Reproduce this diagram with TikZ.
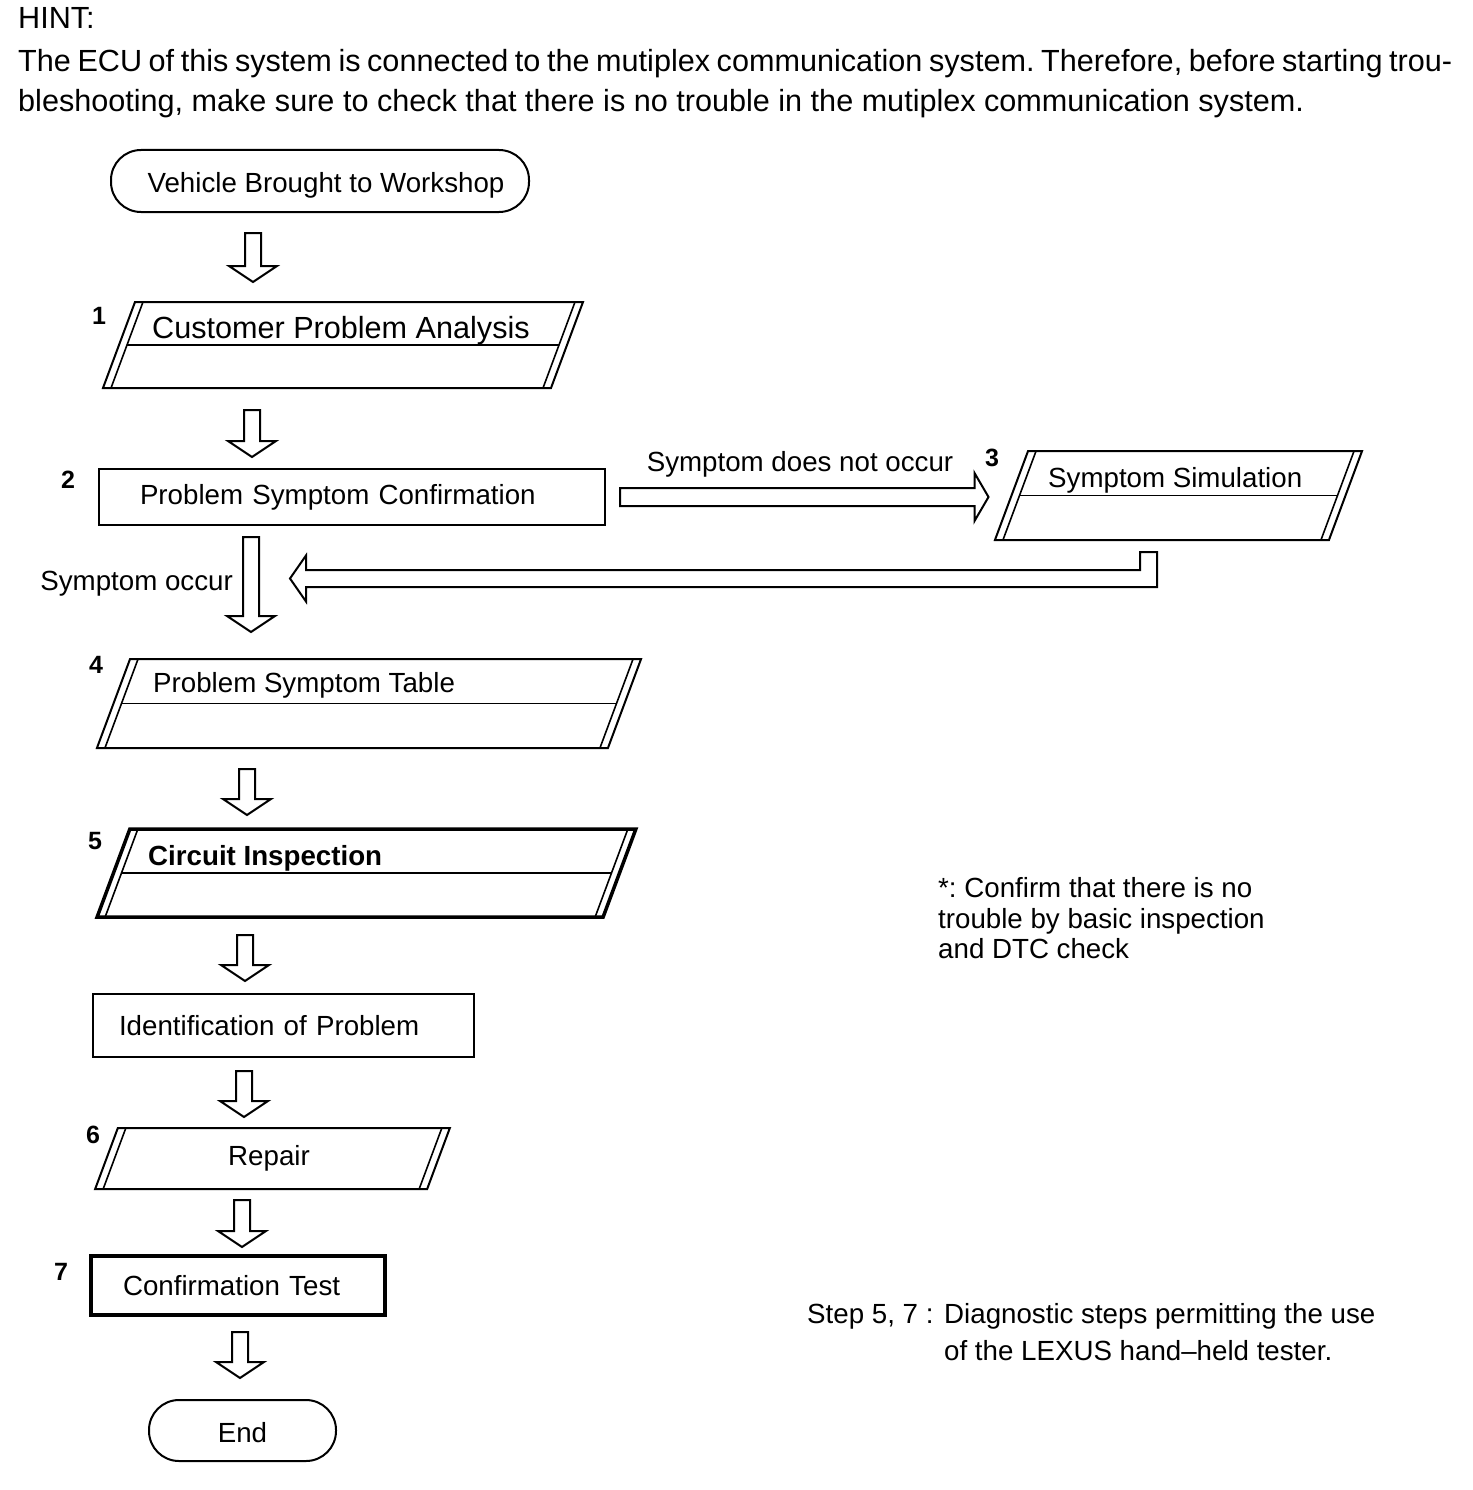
\documentclass[tikz,border=0pt]{standalone}
\usepackage{fontspec}
\setmainfont{Liberation Sans}
\usetikzlibrary{calc}
\frenchspacing

\begin{document}
\begin{tikzpicture}[x=1pt, y=-1pt,
		txt/.style={font=\fontsize{27.7}{33}\selectfont, inner sep=0pt},
		big/.style={font=\fontsize{30.6}{36}\selectfont, inner sep=0pt},
		bold/.style={font=\fontsize{27.7}{33}\selectfont\bfseries, inner sep=0pt},
		num/.style={font=\fontsize{25}{30}\selectfont\bfseries, inner sep=0pt},
		term/.style={txt, draw, line width=2pt, rounded corners=30pt, outer sep=0pt, minimum height=62pt, text height=24pt, text depth=0pt},
		stepbox/.style={txt, draw, line width=2pt, align=left, outer sep=0pt},
		iobox/.style={draw, line width=2pt, xslant=0.372, transform shape, outer sep=0pt, inner sep=0pt},
		sideline/.style={line width=1.6pt},
		downarrow/.style 2 args={line width=2pt, to path={let \p1=(\tikztostart), \p2=(\tikztotarget) in
				(\x1-8pt,\y1-#1) -- (\x1-8pt,\y2+#2+16pt) -- (\x1-24pt,\y2+#2+16pt) -- (\x1,\y2+#2)
				-- (\x1+24pt,\y2+#2+16pt) -- (\x1+8pt,\y2+#2+16pt) -- (\x1+8pt,\y1-#1) -- cycle}},
		rightarrow/.style 2 args={line width=2pt, to path={let \p1=(\tikztostart), \p2=(\tikztotarget) in
				(\x1+#1,\y1-9pt) -- (\x2-#2-14pt,\y1-9pt) -- (\x2-#2-14pt,\y1-24pt) -- (\x2-#2,\y1)
				-- (\x2-#2-14pt,\y1+24pt) -- (\x2-#2-14pt,\y1+9pt) -- (\x1+#1,\y1+9pt) -- cycle}},
	]
	\useasboundingbox (0,0) rectangle (1472,1490);

	% hint
	\node[big, anchor=base west] (hint) at (18,29) {HINT:};
	\node[big, anchor=base west] (hint1) at (18,72) {\makebox[1434pt][s]{The ECU of this system is connected to the mutiplex communication system. Therefore, before starting trou-}};
	\node[big, anchor=base west] (hint2) at (18,112) {bleshooting, make sure to check that there is no trouble in the mutiplex communication system.};

	% steps
	\node[term, minimum width=418pt] (veh) at (320,181) {\hspace*{12pt}Vehicle Brought to Workshop};
	\node[num] (n1) at (99,316) {1};
	\node[iobox, minimum width=448pt, minimum height=86pt] (s1) at (343,345) {};
	\node[big, anchor=base west] (t1) at (152,338) {Customer Problem Analysis};
	\node[num] (n2) at (68,480) {2};
	\node[stepbox, minimum height=56pt, text width=424pt, inner xsep=41pt] (s2) at (352,497) {Problem Symptom Confirmation};
	\node[txt, anchor=base] (notocc) at (800,471) {Symptom does not occur};
	\node[num] (n3) at (992,458) {3};
	\node[iobox, minimum width=334pt, minimum height=89pt] (s3) at (1178.5,495.5) {};
	\node[txt, anchor=base west] (t3) at (1048,487) {Symptom Simulation};
	\node[txt, anchor=base east] (occ) at (233,590) {Symptom occur};
	\node[num] (n4) at (96,665) {4};
	\node[iobox, minimum width=511pt, minimum height=89pt] (s4) at (369,703.5) {};
	\node[txt, anchor=base west] (t4) at (153,692) {Problem Symptom Table};
	\node[num] (n5) at (95,841) {5};
	\node[iobox, line width=3.5pt, minimum width=506pt, minimum height=88pt] (s5) at (366.5,873) {};
	\node[bold, anchor=base west] (t5) at (148,865) {Circuit Inspection};
	\node[stepbox, minimum height=63pt, text width=329pt, inner xsep=26pt] (ident) at (283.5,1025.5) {Identification of Problem};
	\node[num] (n6) at (93,1135) {6};
	\node[iobox, minimum width=332pt, minimum height=61pt] (s6) at (272.5,1158.5) {};
	\node[txt, anchor=base] (t6) at (269,1165) {Repair};
	\node[num] (n7) at (61,1272) {7};
	\node[stepbox, line width=3.5pt, minimum height=59pt, text width=230pt, inner xsep=32pt] (s7) at (238,1285.5) {Confirmation Test};
	\node[term, minimum width=187pt, minimum height=61pt] (finish) at (242.5,1430.5) {End};

	% double sides and inner lines
	\foreach \s in {s1,s3,s4,s5,s6} {
		\draw[sideline] ([xshift=8pt]\s.north west) -- ([xshift=8pt]\s.south west);
		\draw[sideline] ([xshift=-8pt]\s.north east) -- ([xshift=-8pt]\s.south east);
	}
	\foreach \s in {s1,s3,s4,s5}
		\draw[sideline] ([xshift=8pt]\s.west) -- ([xshift=-8pt]\s.east);

	% notes
	\node[txt, anchor=base west] (star1) at (938,897) {*: Confirm that there is no};
	\node[txt, anchor=base west] (star2) at (938,928) {trouble by basic inspection};
	\node[txt, anchor=base west] (star3) at (938,958) {and DTC check};
	\node[txt, anchor=base west] (step57) at (807,1323) {Step 5, 7 :};
	\node[txt, anchor=base west] (use1) at (944,1323) {Diagnostic steps permitting the use};
	\node[txt, anchor=base west] (use2) at (944,1360) {of the LEXUS hand--held tester.};

	% arrows
	\draw[downarrow={21pt}{20pt}] (veh.south -| 253,0) to (s1.north -| 253,0);
	\draw[downarrow={22pt}{12pt}] (s1.south -| 252,0) to (s2.north -| 252,0);
	\draw[downarrow={12pt}{27pt}] (s2.south -| 251,0) to (s4.north -| 251,0);
	\draw[downarrow={21pt}{14pt}] (s4.south -| 247,0) to (s5.north -| 247,0);
	\draw[downarrow={18pt}{13pt}] (s5.south -| 245,0) to (ident.north -| 245,0);
	\draw[downarrow={14pt}{11pt}] (ident.south -| 244,0) to (s6.north -| 244,0);
	\draw[downarrow={11pt}{9pt}] (s6.south -| 242,0) to (s7.north -| 242,0);
	\draw[downarrow={17pt}{22pt}] (s7.south -| 240,0) to (finish.north -| 240,0);
	\draw[rightarrow={15pt}{23pt}] (s2.east) to (s3.west |- s2.east);

	\coordinate (back) at (290,578.5);
	\draw[line width=2pt] let \p1=(s3.south -| 1148.5,0), \p2=(back) in
		(\x1-8.5pt,\y1-12pt) -- (\x1+8.5pt,\y1-12pt) -- (\x1+8.5pt,\y2-8.5pt) -- (\x2+16pt,\y2-8.5pt)
		-- (\x2+16pt,\y2-23pt) -- (\x2,\y2) -- (\x2+16pt,\y2+23pt) -- (\x2+16pt,\y2+8.5pt)
		-- (\x1-8.5pt,\y2+8.5pt) -- cycle;
\end{tikzpicture}
\end{document}
